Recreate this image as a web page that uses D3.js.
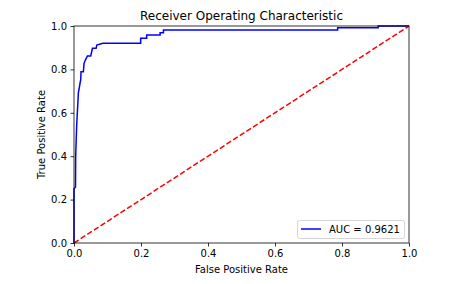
<!DOCTYPE html>
<html>
<head>
<meta charset="utf-8">
<script src="https://cdn.jsdelivr.net/npm/d3@7"></script>
<style>
  body { margin: 0; background: #fff; }
  svg { font-family: "DejaVu Sans", sans-serif; }
</style>
</head>
<body>
<div id="chart"></div>
<script>
// ROC curve points
const fpr = [0, 0, 0.0045, 0.005, 0.008, 0.012, 0.013, 0.019, 0.020, 0.021, 0.028, 0.030, 0.034, 0.040, 0.050,
  0.055, 0.066, 0.068, 0.086, 0.199, 0.199, 0.217, 0.217, 0.257, 0.257, 0.267, 0.267, 0.787, 0.787, 0.908, 0.908, 1.0]
const tpr = [0, 0.25, 0.258, 0.396, 0.544, 0.659, 0.691, 0.745, 0.751, 0.789, 0.789, 0.828, 0.843, 0.862, 0.862,
  0.897, 0.897, 0.912, 0.920, 0.920, 0.943, 0.943, 0.959, 0.959, 0.969, 0.969, 0.982, 0.982, 0.992, 0.992, 1.0, 1.0]
const aucLabel = 'AUC = 0.9621'
const ticks = [0, 0.2, 0.4, 0.6, 0.8, 1.0]

const width = 465
const height = 284
const margin = { top: 26, right: 56, bottom: 41, left: 74 }

const svg = d3.select('#chart')
  .append('svg')
  .attr('width', width)
  .attr('height', height)

const x = d3.scaleLinear().domain([0, 1]).range([margin.left, width - margin.right])
const y = d3.scaleLinear().domain([0, 1]).range([height - margin.bottom, margin.top])

const fmt = d3.format('.1f')

const line = d3.line()
  .x(d => x(d[0]))
  .y(d => y(d[1]))

const plot = svg.append('g')

plot.append('path')
  .datum(fpr.map((f, i) => [f, tpr[i]]))
  .attr('d', line)
  .attr('fill', 'none')
  .attr('stroke', 'blue')
  .attr('stroke-width', 1.5)

plot.append('path')
  .datum([[0, 0], [1, 1]])
  .attr('d', line)
  .attr('fill', 'none')
  .attr('stroke', 'red')
  .attr('stroke-width', 1.5)
  .attr('stroke-dasharray', '5.5,2.4')

// axes
const xAxis = svg.append('g')
  .attr('transform', `translate(0,${y(0)})`)
  .call(d3.axisBottom(x).tickValues(ticks).tickFormat(fmt).tickSize(3.5).tickPadding(3.5))

const yAxis = svg.append('g')
  .attr('transform', `translate(${x(0)},0)`)
  .call(d3.axisLeft(y).tickValues(ticks).tickFormat(fmt).tickSize(3.5).tickPadding(3.5))

;[xAxis, yAxis].forEach(a => {
  a.select('.domain').remove()
  a.selectAll('line').attr('stroke', '#000').attr('stroke-width', 0.8)
  a.selectAll('text').attr('font-size', 10).attr('fill', '#000')
    .attr('font-family', '"DejaVu Sans", sans-serif')
})

// frame
svg.append('rect')
  .attr('x', x(0))
  .attr('y', y(1))
  .attr('width', x(1) - x(0))
  .attr('height', y(0) - y(1))
  .attr('fill', 'none')
  .attr('stroke', '#000')
  .attr('stroke-width', 0.8)

// title and labels
svg.append('text')
  .text('Receiver Operating Characteristic')
  .attr('x', (x(0) + x(1)) / 2)
  .attr('y', 20)
  .attr('text-anchor', 'middle')
  .attr('font-size', 12)

svg.append('text')
  .text('False Positive Rate')
  .attr('x', (x(0) + x(1)) / 2)
  .attr('y', 273)
  .attr('text-anchor', 'middle')
  .attr('font-size', 10)

svg.append('text')
  .text('True Positive Rate')
  .attr('transform', `translate(45,${(y(0) + y(1)) / 2}) rotate(-90)`)
  .attr('text-anchor', 'middle')
  .attr('font-size', 10)

// legend
const lg = svg.append('g')
lg.append('rect')
  .attr('x', 297.5)
  .attr('y', 220.5)
  .attr('width', 107)
  .attr('height', 18)
  .attr('rx', 2)
  .attr('fill', '#fff')
  .attr('fill-opacity', 0.8)
  .attr('stroke', '#ccc')
  .attr('stroke-width', 0.8)

lg.append('line')
  .attr('x1', 301)
  .attr('x2', 321)
  .attr('y1', 229)
  .attr('y2', 229)
  .attr('stroke', 'blue')
  .attr('stroke-width', 1.5)

lg.append('text')
  .text(aucLabel)
  .attr('x', 329)
  .attr('y', 233)
  .attr('font-size', 10)
</script>
</body>
</html>
